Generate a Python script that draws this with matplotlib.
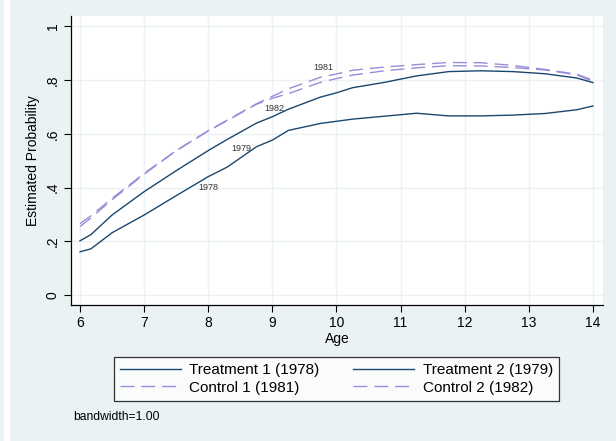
import matplotlib
matplotlib.use("Agg")
import matplotlib.pyplot as plt
from matplotlib.patches import Rectangle

# ---- data ----
age = [6, 6.17, 6.5, 7, 7.5, 8, 8.3, 8.75, 9, 9.25, 9.75, 10, 10.25,
       10.75, 11.25, 11.75, 12.25, 12.75, 13.25, 13.75, 14]
treat1_1978 = [0.161, 0.172, 0.232, 0.298, 0.370, 0.441, 0.477, 0.552, 0.577,
               0.613, 0.639, 0.647, 0.655, 0.666, 0.677, 0.667, 0.667, 0.670,
               0.676, 0.690, 0.704]
treat2_1979 = [0.202, 0.225, 0.298, 0.385, 0.463, 0.538, 0.580, 0.640, 0.664,
               0.692, 0.737, 0.753, 0.772, 0.792, 0.816, 0.832, 0.835, 0.832,
               0.824, 0.808, 0.791]
control1_1981 = [0.266, 0.295, 0.360, 0.453, 0.538, 0.612, 0.652, 0.712, 0.740,
                 0.768, 0.811, 0.823, 0.837, 0.849, 0.858, 0.866, 0.865, 0.855,
                 0.840, 0.822, 0.800]
control2_1982 = [0.255, 0.287, 0.355, 0.450, 0.537, 0.611, 0.650, 0.710, 0.733,
                 0.750, 0.792, 0.806, 0.819, 0.835, 0.846, 0.854, 0.853, 0.847,
                 0.838, 0.820, 0.795]

series_names = ["Treatment 1 (1978)", "Treatment 2 (1979)",
                "Control 1 (1981)", "Control 2 (1982)"]

label_text = ["1978", "1979", "1982", "1981"]
label_x = [8.0, 8.52, 9.03, 9.80]
label_y = [0.400, 0.547, 0.696, 0.849]

x_ticks = [6, 7, 8, 9, 10, 11, 12, 13, 14]
y_ticks = [0, 0.2, 0.4, 0.6, 0.8, 1.0]
y_ticklabels = ["0", ".2", ".4", ".6", ".8", "1"]

# ---- style ----
plt.rcParams["font.family"] = ["Liberation Sans", "DejaVu Sans"]
BG = "#EAF2F3"
NAVY = "#1A476F"
LAV = "#9A8CD8"

W, H = 616, 441
fig = plt.figure(figsize=(W / 100, H / 100), dpi=100, facecolor=BG)
# white strip at left edge of page
fig.patches.append(Rectangle((4 / W, 0), 6 / W, 1, transform=fig.transFigure,
                             facecolor="white", edgecolor="none", zorder=0))

ax = fig.add_axes([70.7 / W, (H - 305) / H, (603 - 70.7) / W, (305 - 16) / H])
ax.set_facecolor("white")

h1, = ax.plot(age, treat1_1978, color=NAVY, lw=1.0, label=series_names[0], zorder=3)
h2, = ax.plot(age, treat2_1979, color=NAVY, lw=1.0, label=series_names[1], zorder=3)
h3, = ax.plot(age, control1_1981, color=LAV, lw=1.0, dashes=(10, 5),
              label=series_names[2], zorder=3)
h4, = ax.plot(age, control2_1982, color=LAV, lw=1.0, dashes=(10, 5),
              label=series_names[3], zorder=3)

for t, x, y in zip(label_text, label_x, label_y):
    ax.text(x, y, t, fontsize=6.5, ha="center", va="center", color="#333333",
            zorder=4)

ax.set_xlim(5.855, 14.156)
ax.set_ylim(-0.037, 1.039)
ax.set_xticks(x_ticks)
ax.set_yticks(y_ticks)
ax.set_yticklabels(y_ticklabels, rotation=90, va="center")
ax.tick_params(axis="both", direction="out", length=5, width=0.8,
               color="#000000", labelsize=10, pad=3)
ax.grid(True, color=BG, lw=1.0, zorder=0)
ax.set_axisbelow(True)
for s in ["top", "right"]:
    ax.spines[s].set_visible(False)
for s in ["left", "bottom"]:
    ax.spines[s].set_color("#000000")
    ax.spines[s].set_linewidth(0.9)

ax.set_xlabel("Age", fontsize=10, labelpad=1)
ax.set_ylabel("Estimated Probability", fontsize=10, labelpad=4)

# row-wise order: T1, T2 / C1, C2 (matplotlib fills column by column)
handles = [h1, h3, h2, h4]
labels = [h.get_label() for h in handles]
leg = fig.legend(handles, labels, ncol=2, loc="center",
                 bbox_to_anchor=(((115 + 558) / 2) / W, 1 - 379 / H),
                 fontsize=11, frameon=True, fancybox=False,
                 edgecolor="#000000", facecolor="white",
                 handlelength=4.0, handletextpad=0.55, columnspacing=2.2,
                 labelspacing=0.2, borderpad=0.4, borderaxespad=0)
leg.get_frame().set_linewidth(0.9)

fig.text(73 / W, 1 - 417 / H, "bandwidth=1.00", fontsize=8.7, ha="left",
         va="center", color="#000000")

fig.savefig("out.png", dpi=100, facecolor=BG)
